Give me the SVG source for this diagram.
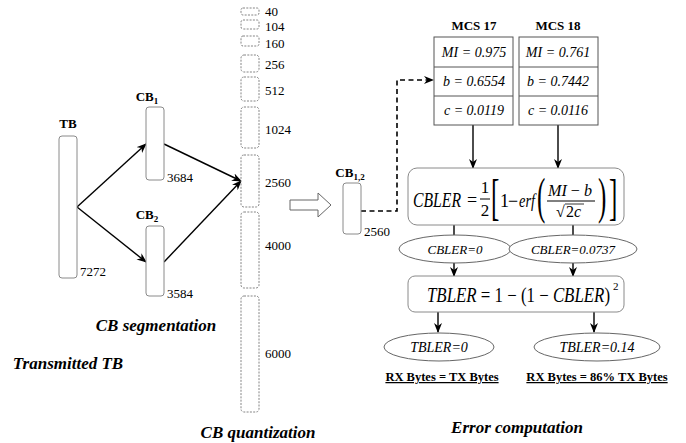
<svg xmlns="http://www.w3.org/2000/svg" width="686" height="443" viewBox="0 0 686 443">
<style>
text{font-family:"Liberation Serif","Times New Roman",serif;fill:#000}
.num{font-size:13px}
.lbl{font-size:13px;font-weight:bold}
.cap{font-size:17px;font-weight:bold;font-style:italic}
.it{font-style:italic}
.box{fill:#fff;stroke:#8a8a8a;stroke-width:1}
.q{fill:#fff;stroke:#777;stroke-width:0.9;stroke-dasharray:2 1.3}
.tb{fill:#fff;stroke:#555;stroke-width:1}
.ln{stroke:#000;stroke-width:1.4;fill:none}
.ar{stroke:#000;stroke-width:1.4;fill:none;marker-end:url(#ah)}
.ell{fill:#fff;stroke:#666;stroke-width:1}
</style>
<defs>
<marker id="ah" viewBox="0 0 10 8" refX="9" refY="4" markerWidth="10" markerHeight="8" markerUnits="userSpaceOnUse" orient="auto">
<path d="M0,0 L10,4 L0,8 L3,4 z" fill="#000"/>
</marker>
</defs>
<rect width="686" height="443" fill="#fff"/>

<g id="connectors">
<line class="ar" x1="77" y1="207" x2="146" y2="144"/>
<line class="ar" x1="77" y1="207" x2="146" y2="262"/>
<line class="ar" x1="164" y1="144" x2="241" y2="181"/>
<line class="ar" x1="164" y1="262" x2="241" y2="181"/>
<path d="M290,200 H318 V193 L331,205 L318,217 V210 H290 Z" fill="#fff" stroke="#666" stroke-width="1"/>
<path d="M361,211 H397 V80 H433" fill="none" stroke="#000" stroke-width="1.6" stroke-dasharray="5 3.5" marker-end="url(#ah)"/>
<line class="ar" x1="473" y1="125" x2="473" y2="168"/>
<line class="ar" x1="558" y1="125" x2="558" y2="168"/>
<line class="ln" x1="454" y1="225" x2="454" y2="236"/>
<line class="ln" x1="573" y1="225" x2="573" y2="236"/>
<line class="ar" x1="454" y1="263" x2="454" y2="276"/>
<line class="ar" x1="573" y1="263" x2="573" y2="276"/>
<line class="ar" x1="438" y1="312" x2="438" y2="332"/>
<line class="ar" x1="594" y1="312" x2="594" y2="332"/>
</g>

<g id="tb">
<rect class="box" x="59" y="136" width="18" height="142" rx="3"/>
<text class="lbl" x="68" y="128" text-anchor="middle">TB</text>
<text class="num" x="80" y="276">7272</text>
</g>
<g id="cb1">
<rect class="box" x="146" y="107" width="18" height="73" rx="3"/>
<text class="lbl" x="147" y="101" text-anchor="middle">CB<tspan font-size="9" dy="3">1</tspan></text>
<text class="num" x="167" y="182">3684</text>
</g>
<g id="cb2">
<rect class="box" x="146" y="226" width="18" height="70" rx="3"/>
<text class="lbl" x="147" y="219" text-anchor="middle">CB<tspan font-size="9" dy="3">2</tspan></text>
<text class="num" x="167" y="298">3584</text>
</g>

<g id="quantization">
<rect class="q" x="241" y="8" width="18" height="7" rx="2"/>
<rect class="q" x="241" y="20" width="18" height="9" rx="2"/>
<rect class="q" x="241" y="36" width="18" height="10" rx="2"/>
<rect class="q" x="241" y="55" width="18" height="17" rx="3"/>
<rect class="q" x="241" y="77" width="18" height="24" rx="3"/>
<rect class="q" x="241" y="107" width="18" height="41" rx="3"/>
<rect class="q" x="241" y="155" width="18" height="52" rx="3"/>
<rect class="q" x="241" y="212" width="18" height="76" rx="3"/>
<rect class="q" x="241" y="296" width="18" height="116" rx="3"/>
<text class="num" x="265" y="16">40</text>
<text class="num" x="265" y="31">104</text>
<text class="num" x="265" y="48">160</text>
<text class="num" x="265" y="69">256</text>
<text class="num" x="265" y="95">512</text>
<text class="num" x="265" y="134">1024</text>
<text class="num" x="265" y="187">2560</text>
<text class="num" x="265" y="250">4000</text>
<text class="num" x="265" y="358">6000</text>
</g>

<g id="cb12">
<rect class="box" x="343" y="183" width="18" height="51" rx="3"/>
<text class="lbl" x="350" y="177" text-anchor="middle">CB<tspan font-size="9" dy="3">1,2</tspan></text>
<text class="num" x="364" y="236">2560</text>
</g>

<g id="mcs17">
<text class="lbl" x="474" y="30" text-anchor="middle">MCS 17</text>
<rect class="tb" x="434" y="37" width="79" height="88"/>
<line x1="434" y1="67" x2="513" y2="67" stroke="#555"/>
<line x1="434" y1="96" x2="513" y2="96" stroke="#555"/>
<text class="it" font-size="14" x="474" y="57" text-anchor="middle">MI = 0.975</text>
<text class="it" font-size="14" x="474" y="86" text-anchor="middle">b = 0.6554</text>
<text class="it" font-size="14" x="474" y="115" text-anchor="middle">c = 0.0119</text>
</g>
<g id="mcs18">
<text class="lbl" x="558" y="30" text-anchor="middle">MCS 18</text>
<rect class="tb" x="519" y="37" width="79" height="88"/>
<line x1="519" y1="67" x2="598" y2="67" stroke="#555"/>
<line x1="519" y1="96" x2="598" y2="96" stroke="#555"/>
<text class="it" font-size="14" x="558" y="57" text-anchor="middle">MI = 0.761</text>
<text class="it" font-size="14" x="558" y="86" text-anchor="middle">b = 0.7442</text>
<text class="it" font-size="14" x="558" y="115" text-anchor="middle">c = 0.0116</text>
</g>

<g id="cbler-formula">
<rect class="box" x="408" y="168" width="216" height="57" rx="9"/>
<text class="it" font-size="20" x="413" y="207" textLength="48" lengthAdjust="spacingAndGlyphs">CBLER</text>
<text font-size="18" x="467" y="206">=</text>
<text font-size="17" x="485" y="193" text-anchor="middle">1</text>
<line x1="480" y1="199" x2="490" y2="199" stroke="#000" stroke-width="1"/>
<text font-size="17" x="485" y="216" text-anchor="middle">2</text>
<text font-size="50" transform="translate(491,214) scale(0.5,1)">[</text>
<text font-size="18" x="500" y="207">1</text>
<text font-size="18" x="508" y="207">−</text>
<text class="it" font-size="18" x="519" y="207" textLength="16" lengthAdjust="spacingAndGlyphs">erf</text>
<text font-size="50" transform="translate(537,213) scale(0.5,1)">(</text>
<text font-size="16" x="548" y="196" textLength="44" lengthAdjust="spacingAndGlyphs"><tspan class="it">MI</tspan> − <tspan class="it">b</tspan></text>
<line x1="547" y1="201" x2="595" y2="201" stroke="#000" stroke-width="1"/>
<text font-size="16" x="556" y="217">√</text>
<line x1="565" y1="204" x2="584" y2="204" stroke="#000" stroke-width="0.8"/>
<text font-size="16" x="566" y="217">2<tspan class="it">c</tspan></text>
<text font-size="50" transform="translate(598,213) scale(0.5,1)">)</text>
<text font-size="50" transform="translate(609,214) scale(0.5,1)">]</text>
</g>

<g id="cbler0">
<ellipse class="ell" cx="455" cy="249" rx="56" ry="14"/>
<text class="it" font-size="13" x="455" y="254" text-anchor="middle">CBLER=0</text>
</g>
<g id="cbler1">
<ellipse class="ell" cx="573" cy="249" rx="64" ry="14"/>
<text class="it" font-size="13" x="573" y="254" text-anchor="middle">CBLER=0.0737</text>
</g>

<g id="tbler-formula">
<rect class="box" x="408" y="276" width="216" height="36" rx="7"/>
<text font-size="20" x="427" y="302" textLength="183" lengthAdjust="spacingAndGlyphs"><tspan class="it">TBLER</tspan> = 1 − (1 − <tspan class="it">CBLER</tspan>)</text>
<text font-size="11" x="613" y="290">2</text>
</g>

<g id="tbler0">
<ellipse class="ell" cx="439" cy="347" rx="55" ry="14"/>
<text class="it" font-size="14" x="439" y="352" text-anchor="middle">TBLER=0</text>
</g>
<g id="tbler1">
<ellipse class="ell" cx="597" cy="347" rx="63" ry="14"/>
<text class="it" font-size="14" x="597" y="352" text-anchor="middle">TBLER=0.14</text>
</g>

<g id="captions">
<text font-size="12.5" font-weight="bold" text-decoration="underline" x="442" y="381" text-anchor="middle">RX Bytes = TX Bytes</text>
<text font-size="12.5" font-weight="bold" text-decoration="underline" x="597" y="381" text-anchor="middle">RX Bytes = 86% TX Bytes</text>
<text class="cap" x="156" y="331" text-anchor="middle">CB segmentation</text>
<text class="cap" x="68" y="369" text-anchor="middle">Transmitted TB</text>
<text class="cap" x="258" y="438" text-anchor="middle">CB quantization</text>
<text class="cap" x="517" y="433" text-anchor="middle">Error computation</text>
</g>
</svg>
